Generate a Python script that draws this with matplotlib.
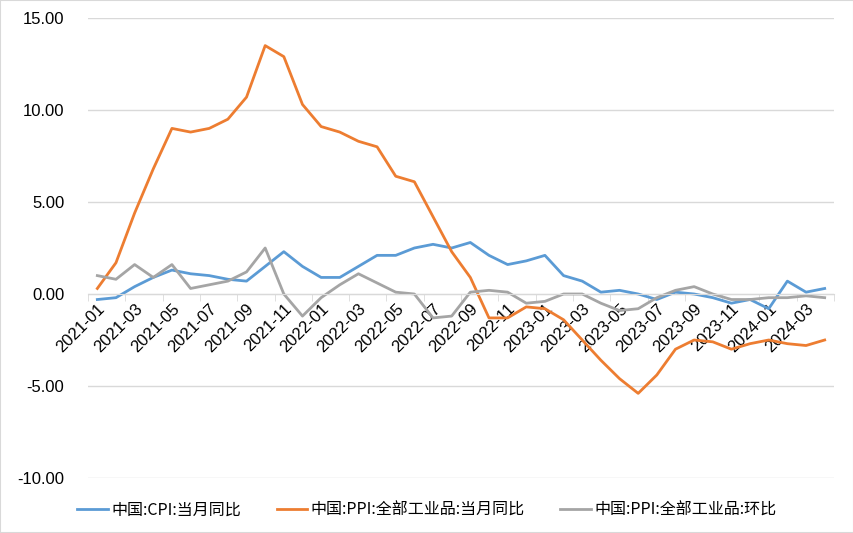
import matplotlib
matplotlib.use("Agg")
import matplotlib.pyplot as plt
from matplotlib.ticker import FixedLocator, FormatStrFormatter

plt.rcParams['font.family'] = ['Noto Sans CJK SC', 'DejaVu Sans']

# months 2021-01 .. 2024-04
months = ["%d-%02d" % (y, m) for y in (2021, 2022, 2023, 2024) for m in range(1, 13)][:40]

cpi_yoy = [-0.3, -0.2, 0.4, 0.9, 1.3, 1.1, 1.0, 0.8, 0.7, 1.5, 2.3, 1.5,
           0.9, 0.9, 1.5, 2.1, 2.1, 2.5, 2.7, 2.5, 2.8, 2.1, 1.6, 1.8,
           2.1, 1.0, 0.7, 0.1, 0.2, 0.0, -0.3, 0.1, 0.0, -0.2, -0.5, -0.3,
           -0.8, 0.7, 0.1, 0.3]
ppi_yoy = [0.3, 1.7, 4.4, 6.8, 9.0, 8.8, 9.0, 9.5, 10.7, 13.5, 12.9, 10.3,
           9.1, 8.8, 8.3, 8.0, 6.4, 6.1, 4.2, 2.3, 0.9, -1.3, -1.3, -0.7,
           -0.8, -1.4, -2.5, -3.6, -4.6, -5.4, -4.4, -3.0, -2.5, -2.6, -3.0, -2.7,
           -2.5, -2.7, -2.8, -2.5]
ppi_mom = [1.0, 0.8, 1.6, 0.9, 1.6, 0.3, 0.5, 0.7, 1.2, 2.5, 0.0, -1.2,
           -0.2, 0.5, 1.1, 0.6, 0.1, 0.0, -1.3, -1.2, 0.1, 0.2, 0.1, -0.5,
           -0.4, 0.0, 0.0, -0.5, -0.9, -0.8, -0.2, 0.2, 0.4, 0.0, -0.3, -0.3,
           -0.2, -0.2, -0.1, -0.2]

labels = ["中国:CPI:当月同比", "中国:PPI:全部工业品:当月同比", "中国:PPI:全部工业品:环比"]
colors = ["#5B9BD5", "#ED7D31", "#A5A5A5"]

fig = plt.figure(figsize=(8.54, 5.33), dpi=100)
ax = fig.add_axes([88 / 854, 1 - 478 / 533, (834 - 88) / 854, (478 - 18) / 533])

x = list(range(len(months)))
for vals, lab, c in zip([cpi_yoy, ppi_yoy, ppi_mom], labels, colors):
    ax.plot(x, vals, color=c, lw=2.0, label=lab, solid_joinstyle='round')

ax.set_xlim(-0.5, len(months) - 0.5)
ax.set_ylim(-10, 15)
ax.set_yticks([-10, -5, 0, 5, 10, 15])
ax.yaxis.set_major_formatter(FormatStrFormatter('%.2f'))
ax.grid(axis='y', color='#D9D9D9', lw=1.0)
ax.set_axisbelow(True)

for s in ['top', 'right', 'left']:
    ax.spines[s].set_visible(False)
ax.spines['bottom'].set_position(('data', 0))
ax.spines['bottom'].set_color('#D9D9D9')
ax.tick_params(axis='y', length=0, labelsize=12, pad=17)
for t in ax.get_yticklabels():
    t.set_family('Liberation Sans')

ax.set_xticks(x[::2])
ax.set_xticklabels(months[::2], rotation=45, ha='right', rotation_mode='anchor',
                   fontsize=12, family='Liberation Sans')
ax.tick_params(axis='x', which='major', length=0, pad=5)
ax.xaxis.set_minor_locator(FixedLocator([i - 0.5 for i in range(0, 41, 2)]))
ax.tick_params(axis='x', which='minor', length=5, color='#D9D9D9')

fig.legend(loc='lower center', bbox_to_anchor=(0.5, 0.0), ncol=3, frameon=False,
           fontsize=11.5, handlelength=1.9, handletextpad=0.25, columnspacing=2.2)

fig.patches.append(plt.Rectangle((0, 0), 1, 1, transform=fig.transFigure, fill=False,
                                 edgecolor='#D9D9D9', lw=1.5))

fig.savefig("out.png", dpi=100)
